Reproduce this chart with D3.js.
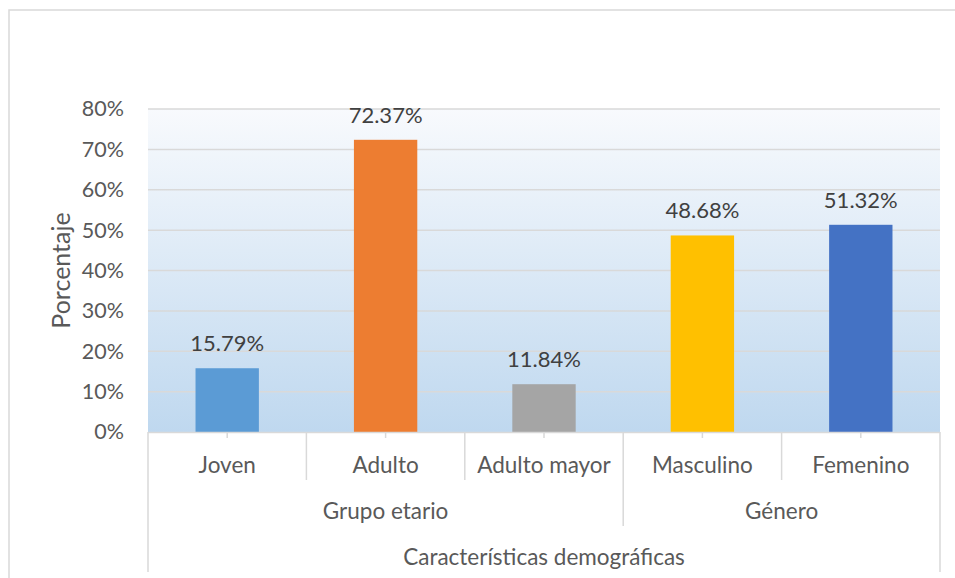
<!DOCTYPE html>
<html lang="es">
<head>
<meta charset="UTF-8">
<title>Características demográficas</title>
<script src="https://d3js.org/d3.v7.min.js"></script>
<style>
    body { margin: 0; background: #fff; }
    text { font-family: Lato, "Open Sans", sans-serif; fill: #595959; }
    .lbl { fill: #404040; }
</style>
</head>
<body>
<script>
    // data
    const categories = ["Joven", "Adulto", "Adulto mayor", "Masculino", "Femenino"];
    const values = [15.79, 72.37, 11.84, 48.68, 51.32];
    const barColors = ["#5B9BD5", "#ED7D31", "#A5A5A5", "#FFC000", "#4472C4"];
    const groups = ["Grupo etario", "Género"];
    const groupSizes = [3, 2];
    const yTicks = [0, 10, 20, 30, 40, 50, 60, 70, 80];

    const width = 955, height = 578;
    const plotLeft = 148, plotRight = 940, plotTop = 109, plotBottom = 432;
    const tickSize = 21.5, labelSize = 22, textSize = 22.5, titleSize = 25;

    const svg = d3.select("body").append("svg")
        .attr("width", width)
        .attr("height", height);

    // outer frame
    svg.append("rect")
        .attr("x", 9).attr("y", 10)
        .attr("width", 980).attr("height", 600)
        .attr("fill", "none")
        .attr("stroke", "#d9d9d9")
        .attr("stroke-width", 1.5);

    const x = d3.scaleBand()
        .domain(categories)
        .range([plotLeft, plotRight])
        .paddingInner(0.6)
        .paddingOuter(0.3);

    const y = d3.scaleLinear()
        .domain([0, 80])
        .range([plotBottom, plotTop]);

    // plot background
    const grad = svg.append("defs").append("linearGradient")
        .attr("id", "bg")
        .attr("x1", 0).attr("y1", 0).attr("x2", 0).attr("y2", 1);
    grad.append("stop").attr("offset", "0%").attr("stop-color", "#f8fafd");
    grad.append("stop").attr("offset", "100%").attr("stop-color", "#bfd8ef");

    svg.append("rect")
        .attr("x", plotLeft).attr("y", plotTop)
        .attr("width", plotRight - plotLeft).attr("height", plotBottom - plotTop)
        .attr("fill", "url(#bg)");

    // gridlines
    svg.append("g")
        .selectAll("line")
        .data(yTicks.slice(1))
        .enter().append("line")
        .attr("x1", plotLeft).attr("x2", plotRight)
        .attr("y1", d => y(d)).attr("y2", d => y(d))
        .attr("stroke", "#d9d9d9")
        .attr("stroke-width", 1.5);

    // y axis labels
    const yAxis = svg.append("g")
        .attr("transform", "translate(" + (plotLeft - 16) + ",0)")
        .call(d3.axisLeft(y).tickValues(yTicks).tickSize(0).tickFormat(d => d + "%"));
    yAxis.select(".domain").remove();
    yAxis.selectAll("text")
        .attr("x", -8)
        .style("font-family", "Lato, sans-serif")
        .style("font-size", tickSize + "px")
        .style("fill", "#595959");

    // bars
    svg.selectAll(".bar")
        .data(values)
        .enter().append("rect")
        .attr("class", "bar")
        .attr("x", (d, i) => x(categories[i]))
        .attr("y", d => y(d))
        .attr("width", x.bandwidth())
        .attr("height", d => plotBottom - y(d))
        .attr("fill", (d, i) => barColors[i]);

    // data labels
    svg.selectAll(".lbl")
        .data(values)
        .enter().append("text")
        .attr("class", "lbl")
        .attr("x", (d, i) => x(categories[i]) + x.bandwidth() / 2)
        .attr("y", d => y(d) - 17)
        .attr("text-anchor", "middle")
        .style("font-size", labelSize + "px")
        .text(d => d.toFixed(2) + "%");

    // multi-level category axis
    const step = x.step();
    const edge = i => plotLeft + i * step;
    const axisColor = "#d9d9d9";

    svg.append("line")
        .attr("x1", plotLeft).attr("x2", plotRight)
        .attr("y1", plotBottom + 0.5).attr("y2", plotBottom + 0.5)
        .attr("stroke", axisColor).attr("stroke-width", 1.5);

    // short ticks at category centres
    svg.append("g").selectAll("line")
        .data(categories)
        .enter().append("line")
        .attr("x1", d => x(d) + x.bandwidth() / 2)
        .attr("x2", d => x(d) + x.bandwidth() / 2)
        .attr("y1", plotBottom).attr("y2", plotBottom + 6)
        .attr("stroke", axisColor).attr("stroke-width", 1.5);

    // boundaries
    const groupEdges = [0];
    groupSizes.forEach(s => groupEdges.push(groupEdges[groupEdges.length - 1] + s));
    for (let i = 0; i <= categories.length; i++) {
        let y2 = 480;
        if (i === 0 || i === categories.length) y2 = 572;
        else if (groupEdges.includes(i)) y2 = 526;
        svg.append("line")
            .attr("x1", edge(i)).attr("x2", edge(i))
            .attr("y1", plotBottom).attr("y2", y2)
            .attr("stroke", axisColor).attr("stroke-width", 1.5);
    }

    svg.append("g").selectAll("text")
        .data(categories)
        .enter().append("text")
        .attr("x", d => x(d) + x.bandwidth() / 2)
        .attr("y", 473)
        .attr("text-anchor", "middle")
        .style("font-size", textSize + "px")
        .text(d => d);

    svg.append("g").selectAll("text")
        .data(groups)
        .enter().append("text")
        .attr("x", (d, i) => (edge(groupEdges[i]) + edge(groupEdges[i + 1])) / 2)
        .attr("y", 519)
        .attr("text-anchor", "middle")
        .style("font-size", textSize + "px")
        .text(d => d);

    // axis titles
    svg.append("text")
        .attr("x", (plotLeft + plotRight) / 2)
        .attr("y", 565)
        .attr("text-anchor", "middle")
        .style("font-size", textSize + "px")
        .text("Características demográficas");

    svg.append("text")
        .attr("transform", "translate(70," + (plotTop + plotBottom) / 2 + ") rotate(-90)")
        .attr("text-anchor", "middle")
        .style("font-size", titleSize + "px")
        .text("Porcentaje");
</script>
</body>
</html>
